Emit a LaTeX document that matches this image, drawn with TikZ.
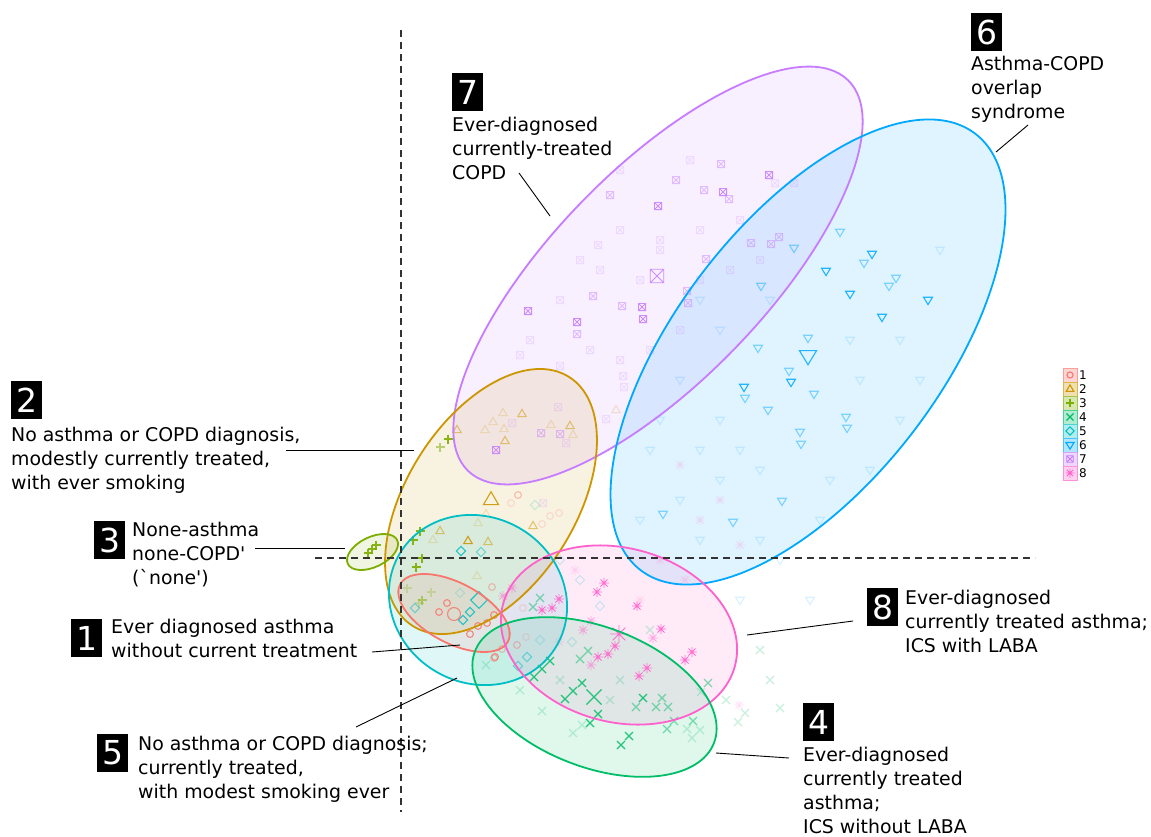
\documentclass[tikz,border=0pt]{standalone}
\usepackage{fontspec}
\setmainfont{DejaVu Sans}[Ligatures=TeXOff]
\definecolor{c1}{HTML}{F8766D}
\definecolor{c2}{HTML}{CD9600}
\definecolor{c3}{HTML}{7CAE00}
\definecolor{c4}{HTML}{00BE67}
\definecolor{c5}{HTML}{00BFC4}
\definecolor{c6}{HTML}{00A9FF}
\definecolor{c7}{HTML}{C77CFF}
\definecolor{c8}{HTML}{FF61CC}
\definecolor{guide}{HTML}{333333}

% scatter helper: marker pic, colour, opacity, list of x/y
\newcommand\scatter[4]{\foreach \px/\py in {#4}{\pic[#2, opacity=#3] at (\px,\py) {#1};}}
% cluster ellipse helper: style, colour, cx, cy, semi-major, semi-minor, angle
\newcommand\cluster[7]{\path[#1, #2, shift={(#3,#4)}, rotate=#7] (0,0) ellipse[x radius=#5, y radius=#6];}

\tikzset{
  mk/.style={line width=1.1pt},
  pt1/.pic={\draw[mk] (0,0) circle[radius=3.4];},
  pt2/.pic={\draw[mk] (-4.2,2.6) -- (4.2,2.6) -- (0,-4.6) -- cycle;},
  pt3/.pic={\draw[mk] (-4.5,0) -- (4.5,0) (0,-4.5) -- (0,4.5);},
  pt4/.pic={\draw[mk] (-4,-4) -- (4,4) (-4,4) -- (4,-4);},
  pt5/.pic={\draw[mk] (0,-4.6) -- (4.6,0) -- (0,4.6) -- (-4.6,0) -- cycle;},
  pt6/.pic={\draw[mk] (-4.5,-2.8) -- (4.5,-2.8) -- (0,4.6) -- cycle;},
  pt7/.pic={\draw[mk, line width=0.8pt] (-3.6,-3.6) rectangle (3.6,3.6) (-3.6,-3.6) -- (3.6,3.6) (-3.6,3.6) -- (3.6,-3.6);},
  pt8/.pic={\draw[mk, line width=0.9pt] (-5,0) -- (5,0) (0,-5) -- (0,5) (-3.5,-3.5) -- (3.5,3.5) (-3.5,3.5) -- (3.5,-3.5);},
  ellfill/.style={fill, fill opacity=0.12},
  ellline/.style={draw, line width=1.8pt},
  dashline/.style={guide, line width=1.6pt, dash pattern=on 7pt off 5pt},
  leader/.style={black, line width=0.9pt},
  numbox/.style={fill=black, text=white, font=\fontsize{33}{33}\selectfont,
                 minimum width=31pt, minimum height=38pt, inner sep=0pt},
  % multi-line labels are anchored at the baseline of their last line
  lbl/.style={font=\fontsize{18.9}{24}\selectfont, align=left, anchor=base west, inner sep=0pt},
  legtext/.style={font=\fontsize{12}{12}\selectfont, anchor=west, inner sep=0pt},
}

\begin{document}
\begin{tikzpicture}[x=1pt, y=-1pt]
\useasboundingbox (0,0) rectangle (1151,836);
\fill[white] (0,0) rectangle (1151,836);

% translucent cluster regions
\cluster{ellfill}{c7}{658}{275.5}{272.5}{106}{45.8}
\cluster{ellfill}{c6}{808}{352}{275}{132}{52.5}
\cluster{ellfill}{c2}{491}{501.5}{147}{84.7}{58}
\cluster{ellfill}{c5}{478}{600}{91}{83}{-30}
\cluster{ellfill}{c1}{454}{613}{61}{30}{-28}
\cluster{ellfill}{c3}{372.5}{552}{27.4}{15}{25.7}
\cluster{ellfill}{c8}{619}{635}{120}{87}{-15}
\cluster{ellfill}{c4}{594.5}{697}{128}{70}{-21}

% ---- group 7: square with cross
\scatter{pt7}{c7}{0.18}{598/245,560/366,620/230,660/240,700/230,740/220,690/160,660/250,600/270,640/280,560/300,530/340,620/360,680/330,794/183,775/183,558/407,606/419,623/376,624/387,543/503,512/423,566/443,520/355,590/350,650/350,700/280,730/270,760/260,620/170,580/260}
\scatter{pt7}{c7}{0.45}{676/180,704/190,729/199,687/291,688/303,622/306,593/296,577/334,706/259,721/164,610/195,779/237,771/244,751/243,541/433,560/434}
\scatter{pt7}{c7}{0.85}{658/206,723/192,769/175,528/311,577/322,642/307,643/319,496/450}
\pic[c7, opacity=0.85, scale=1.9] at (657,276) {pt7};

% ---- group 6: inverted triangles
\scatter{pt6}{c6}{0.15}{700/300,720/330,680/380,650/450,700/450,720/480,760/470,680/500,860/380,900/340,940/250,920/380,700/540,760/540,640/520,870/470,780/560,720/420,830/480,810/600,740/600,770/300,850/340,900/420,660/420,740/450,820/520}
\scatter{pt6}{c6}{0.45}{840/232,896/278,794/248,808/338,745/398,814/394,800/432,801/444,846/417,847/428,768/410,761/286,789/371,758/348,864/263,889/286,782/501,663/514,733/522}
\scatter{pt6}{c6}{0.85}{872/254,826/271,928/300,850/294,882/317,791/382,744/387}
\pic[c6, opacity=0.85, scale=1.9] at (808,356) {pt6};

% ---- group 2: triangles
\scatter{pt2}{c2}{0.2}{433/540,486/514,478/523,477/576,493/422,485/430,504/429,551/425,616/410,503/413,573/435}
\scatter{pt2}{c2}{0.5}{488/542,440/531,533/526,522/414,457/430,505/441,570/426}
\scatter{pt2}{c2}{0.9}{468/541}
\pic[c2, opacity=0.9, scale=1.8] at (491,500) {pt2};

% ---- group 3: plus
\scatter{pt3}{c3}{0.25}{407/588,431/592,419/603}
\scatter{pt3}{c3}{0.5}{440/447,422/600}
\scatter{pt3}{c3}{0.9}{372/549,368/553,376/545,420/531,413/540,422/558,416/567,448/439}

% ---- group 5: diamonds
\scatter{pt5}{c5}{0.2}{460/593,535/505,572/642,580/580,600/606,560/560,540/640}
\scatter{pt5}{c5}{0.5}{481/552,415/608,527/657,518/666}
\scatter{pt5}{c5}{0.85}{461/551,470/612,463/620}
\pic[c5, opacity=0.85, scale=1.8] at (479,600) {pt5};

% ---- group 1: circles
\scatter{pt1}{c1}{0.2}{511/503,542/524,550/516,559/513,523/608,526/637}
\scatter{pt1}{c1}{0.45}{517/645,502/649,494/658,518/495,492/587}
\scatter{pt1}{c1}{0.85}{439/612,447/603,478/626,487/623,494/615,470/634,495/657}
\pic[c1, opacity=0.85, scale=1.9] at (454,614) {pt1};

% ---- group 4: crosses
\scatter{pt4}{c4}{0.22}{701/692,687/729,700/730,692/738,542/711,573/733,582/725,486/665,726/700,745/713,738/722,770/680,780/708,760/650,650/630,620/680,610/700,520/690,560/680}
\scatter{pt4}{c4}{0.5}{636/707,656/707,668/707,662/698,674/721,667/729,693/721,708/683,580/659,588/651,540/598,533/607}
\scatter{pt4}{c4}{0.85}{542/669,550/661,534/677,573/691,582/683,565/699,598/714,590/723,629/736,621/745,643/698}
\pic[c4, opacity=0.85, scale=1.9] at (594,697) {pt4};

% ---- group 8: asterisks
\scatter{pt8}{c8}{0.2}{739/705,559/642,680/465,700/520,660/560,720/500,685/580,740/545,640/600,575/570}
\scatter{pt8}{c8}{0.5}{591/621,583/630,653/638,591/665,503/596,512/588}
\scatter{pt8}{c8}{0.9}{559/599,552/608,542/610,604/583,597/592,615/646,608/654,598/657,661/629,692/652,685/660,647/668,639/676,637/606}
\pic[c8, opacity=0.9, scale=1.8] at (619,634) {pt8};

% cluster outlines
\cluster{ellline}{c7}{658}{275.5}{272.5}{106}{45.8}
\cluster{ellline}{c6}{808}{352}{275}{132}{52.5}
\cluster{ellline}{c2}{491}{501.5}{147}{84.7}{58}
\cluster{ellline}{c5}{478}{600}{91}{83}{-30}
\cluster{ellline}{c1}{454}{613}{61}{30}{-28}
\cluster{ellline}{c3}{372.5}{552}{27.4}{15}{25.7}
\cluster{ellline}{c8}{619}{635}{120}{87}{-15}
\cluster{ellline}{c4}{594.5}{697}{128}{70}{-21}

% reference axes
\coordinate (vtop) at (401,30);
\coordinate (vbot) at (401,812);
\coordinate (hleft) at (315,558);
\coordinate (hright) at (1035,558);
\draw[dashline] (vtop) -- (vbot);
\draw[dashline] (hleft) -- (hright);

% legend
\foreach \i in {1,...,8}{
  \filldraw[fill=c\i!30, draw=c\i!70, line width=0.5pt] (1063,{354+14*\i}) rectangle (1077,{368+14*\i});
  \pic[c\i, scale=0.9] at (1070,{361+14*\i}) {pt\i};
  \node[legtext] (key\i) at (1079,{361+14*\i}) {\i};
}

% numbered labels
\node[numbox] (n2) at (26.5,400) {2};
\node[lbl] (lab2) at (11,489) {No asthma or COPD diagnosis,\\modestly currently treated,\\with ever smoking};
\node[numbox] (n3) at (109.5,540) {3};
\node[lbl] (lab3) at (132,584) {None-asthma\\none-COPD'\\(`none')};
\node[numbox] (n1) at (86.5,638) {1};
\node[lbl] (lab1) at (111,657) {Ever diagnosed asthma\\without current treatment};
\node[numbox] (n5) at (112.5,753) {5};
\node[lbl] (lab5) at (138,798) {No asthma or COPD diagnosis;\\currently treated,\\with modest smoking ever};
\node[numbox] (n8) at (882.5,607) {8};
\node[lbl] (lab8) at (905,652) {Ever-diagnosed\\currently treated asthma;\\ICS with LABA};
\node[numbox] (n4) at (818.5,722) {4};
\node[lbl] (lab4) at (803,833) {Ever-diagnosed\\currently treated\\asthma;\\ICS without LABA};
\node[numbox] (n7) at (467.5,92) {7};
\node[lbl] (lab7) at (452,179) {Ever-diagnosed\\currently-treated\\COPD};
\node[numbox] (n6) at (986.5,32) {6};
\node[lbl] (lab6) at (971,118) {Asthma-COPD\\overlap\\syndrome};

% leader lines from labels to their clusters
\coordinate (a2) at (286,450); \coordinate (b2) at (414,450);
\coordinate (a3) at (255,548); \coordinate (b3) at (345,548);
\coordinate (a1) at (372,652); \coordinate (b1) at (460,645);
\coordinate (a5) at (356,727); \coordinate (b5) at (457,678);
\coordinate (a7) at (519,173); \coordinate (b7) at (550,216);
\coordinate (a6) at (1028,125); \coordinate (b6) at (996,152);
\coordinate (a8) at (853,621); \coordinate (b8) at (747,635);
\coordinate (a4) at (789,758); \coordinate (b4) at (716,753);
\foreach \k in {1,...,8}{\draw[leader] (a\k) -- (b\k);}
\end{tikzpicture}
\end{document}
